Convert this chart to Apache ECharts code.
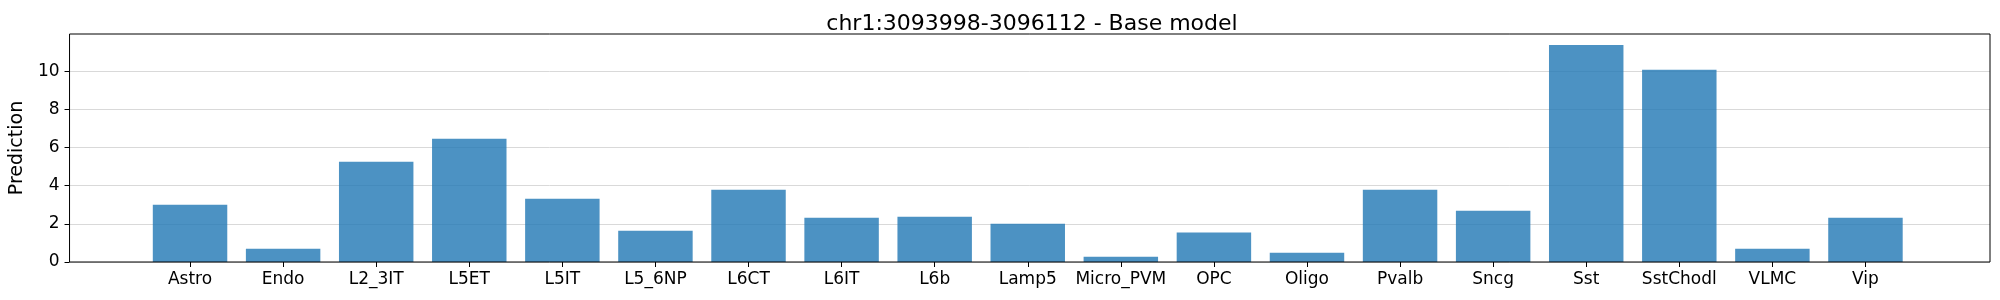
<!DOCTYPE html>
<html>
<head>
<meta charset="utf-8">
<script src="https://cdn.jsdelivr.net/npm/echarts@6/dist/echarts.min.js"></script>
<style>
  html, body { margin: 0; padding: 0; background: #fff; }
  #chart { width: 2000px; height: 300px; }
</style>
</head>
<body>
<div id="chart"></div>
<script>
const titleText = 'chr1:3093998-3096112 - Base model';
const yAxisName = 'Prediction';
const categories = ['Astro', 'Endo', 'L2_3IT', 'L5ET', 'L5IT', 'L5_6NP', 'L6CT', 'L6IT', 'L6b', 'Lamp5',
  'Micro_PVM', 'OPC', 'Oligo', 'Pvalb', 'Sncg', 'Sst', 'SstChodl', 'VLMC', 'Vip'];
const values = [3.00, 0.70, 5.25, 6.46, 3.32, 1.64, 3.79, 2.32, 2.37, 2.01,
  0.28, 1.54, 0.49, 3.79, 2.69, 11.38, 10.07, 0.70, 2.32];
const yTicks = [0, 2, 4, 6, 8, 10];
const yMax = 11.95;

const font = 'DejaVu Sans';
const chart = echarts.init(document.getElementById('chart'), null, { renderer: 'canvas' });
chart.setOption({
  animation: false,
  backgroundColor: '#ffffff',
  title: {
    text: titleText,
    left: 1027, top: 8, textAlign: 'center',
    textStyle: { fontFamily: font, fontSize: 22, fontWeight: 'normal', color: '#000', lineHeight: 22 }
  },
  grid: [
    { left: 65, right: 10, top: 34, bottom: 38, show: true, borderColor: '#000', borderWidth: 1, z: 10, backgroundColor: 'transparent' },
    { left: 143.5, right: 88, top: 34, bottom: 38 }
  ],
  xAxis: [
    { gridIndex: 0, type: 'value', min: 0, max: 1, show: false },
    {
      gridIndex: 1, type: 'category', data: categories,
      axisLine: { show: false },
      axisTick: { show: true, alignWithLabel: true, length: 5, lineStyle: { color: '#000', width: 1 } },
      axisLabel: { interval: 0, margin: 9, fontFamily: font, fontSize: 17, color: '#000', lineHeight: 17 },
      splitLine: { show: false }
    }
  ],
  yAxis: [
    {
      gridIndex: 0, type: 'value', min: 0, max: yMax,
      name: yAxisName, nameLocation: 'middle', nameGap: 36,
      nameTextStyle: { fontFamily: font, fontSize: 19, color: '#000' },
      axisLine: { show: false },
      axisTick: { show: true, length: 5, customValues: yTicks, lineStyle: { color: '#000', width: 1 } },
      axisLabel: { customValues: yTicks, margin: 10, fontFamily: font, fontSize: 17, color: '#000' },
      splitLine: { show: true, lineStyle: { color: '#d9d9d9', width: 1 } }
    },
    { gridIndex: 1, type: 'value', min: 0, max: yMax, show: false, splitLine: { show: false } }
  ],
  series: [{
    type: 'bar',
    xAxisIndex: 1, yAxisIndex: 1,
    data: values,
    barWidth: '80%',
    itemStyle: { color: 'rgba(31,119,180,0.8)' }
  }]
});
</script>
</body>
</html>
